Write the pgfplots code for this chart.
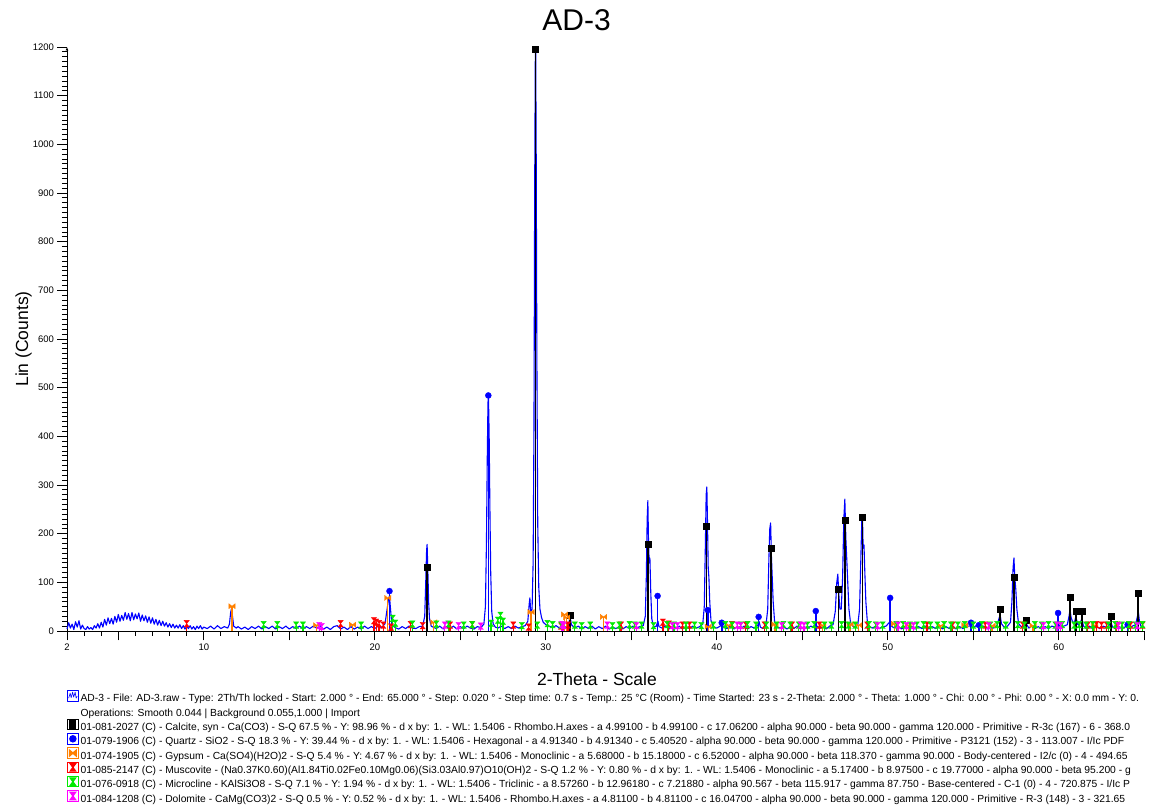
\documentclass[border=0pt]{standalone}
\usepackage{pgfplots}
\pgfplotsset{compat=1.18}
\usepackage{fontspec}
\setmainfont{Liberation Sans}
\usetikzlibrary{arrows.meta}
\definecolor{gyp}{RGB}{255,128,0}
\definecolor{mus}{RGB}{255,0,0}
\definecolor{mic}{RGB}{0,235,0}
\definecolor{dol}{RGB}{255,0,255}
\definecolor{pat}{RGB}{0,0,255}
\pgfdeclareplotmark{hglass}{%
 \pgfpathmoveto{\pgfqpoint{-0.8\pgfplotmarksize}{\pgfplotmarksize}}%
 \pgfpathlineto{\pgfqpoint{0.8\pgfplotmarksize}{\pgfplotmarksize}}%
 \pgfpathlineto{\pgfqpoint{-0.8\pgfplotmarksize}{-\pgfplotmarksize}}%
 \pgfpathlineto{\pgfqpoint{0.8\pgfplotmarksize}{-\pgfplotmarksize}}%
 \pgfpathclose\pgfusepathqfillstroke}
\pgfdeclareplotmark{bowtie}{%
 \pgfpathmoveto{\pgfqpoint{-\pgfplotmarksize}{0.8\pgfplotmarksize}}%
 \pgfpathlineto{\pgfqpoint{-\pgfplotmarksize}{-0.8\pgfplotmarksize}}%
 \pgfpathlineto{\pgfqpoint{\pgfplotmarksize}{0.8\pgfplotmarksize}}%
 \pgfpathlineto{\pgfqpoint{\pgfplotmarksize}{-0.8\pgfplotmarksize}}%
 \pgfpathclose\pgfusepathqfillstroke}
\newcommand{\iconbox}[1]{\draw[#1,line width=0.9pt,fill=white] (0pt,-2pt) rectangle (10.5pt,8.5pt);}
\begin{document}
\begin{tikzpicture}
\useasboundingbox (0,0) rectangle (1149pt,808pt);
\begin{axis}[
  at={(67pt,177pt)}, anchor=south west,
  scale only axis, width=1077.3pt, height=584pt,
  xmin=2, xmax=65, ymin=0, ymax=1200,
  clip=false,
  axis x line*=bottom, axis y line*=left,
  axis line style={line width=0.9pt},
  y axis line style={-{Latex[length=3.5pt,width=3pt]}},
  tick align=outside,
  tick style={black, line width=0.8pt},
  major tick length=9.5pt, minor tick length=5pt,
  xtick={2,10,20,30,40,50,60},
  extra x ticks={5,15,25,35,45,55,65}, extra x tick labels={},
  minor xtick={3,4,...,64},
  ytick={0,100,...,1200}, minor y tick num=9,
  /pgf/number format/assume math mode=true,
  /pgf/number format/1000 sep={},
  ticklabel style={font=\fontsize{9.5}{11}\selectfont},
  title={AD-3},
  title style={font=\fontsize{30}{32}\selectfont, at={(0.473,1)}, anchor=base, yshift=10pt},
  xlabel={2-Theta - Scale},
  xlabel style={font=\fontsize{17.5}{20}\selectfont, at={(axis description cs:0.492,0)}, anchor=base, yshift=-55pt},
  ylabel={Lin (Counts)},
  ylabel style={font=\fontsize{17.5}{20}\selectfont, at={(axis description cs:-0.0362,0.5)}, anchor=base},
  legend cell align=left,
  legend style={at={(0,0)}, anchor=north west, yshift=-59pt, draw=none, fill=none,
    font=\fontsize{10.3}{11}\selectfont, row sep=0.6pt, column sep=2pt, inner sep=0pt,
    nodes={inner sep=0pt, text height=7.5pt, text depth=2pt}},
]
% measured pattern
\addplot[pat, line width=1.1pt, line join=round,
  legend image code/.code={\iconbox{pat}\draw[pat,line width=0.6pt] (1pt,1pt)--(2.5pt,6pt)--(3.5pt,1.5pt)--(5pt,7pt)--(6pt,2pt)--(7.5pt,7pt)--(8.5pt,1pt)--(9.5pt,3pt);}]
 table[row sep=\\] {x y\\
2.0 4\\ 2.1 17\\ 2.2 6\\ 2.3 14\\ 2.4 3\\ 2.5 19\\ 2.6 8\\ 2.7 21\\ 2.8 4\\ 2.9 12\\
3.0 5\\ 3.1 3\\ 3.2 9\\ 3.3 4\\ 3.4 7\\ 3.5 3\\ 3.6 11\\ 3.7 6\\ 3.8 15\\ 3.9 6\\
4.0 18\\ 4.1 8\\ 4.2 24\\ 4.3 12\\ 4.4 27\\ 4.5 15\\ 4.6 26\\ 4.7 14\\ 4.8 30\\ 4.9 18\\
5.0 34\\ 5.1 20\\ 5.2 32\\ 5.3 22\\ 5.4 38\\ 5.5 24\\ 5.6 36\\ 5.7 21\\ 5.8 38\\ 5.9 23\\
6.0 35\\ 6.1 25\\ 6.2 37\\ 6.3 20\\ 6.4 33\\ 6.5 21\\ 6.6 31\\ 6.7 18\\ 6.8 29\\ 6.9 16\\
7.0 27\\ 7.1 14\\ 7.2 24\\ 7.3 12\\ 7.4 22\\ 7.5 11\\ 7.6 20\\ 7.7 10\\ 7.8 17\\ 7.9 8\\
8.0 15\\ 8.1 7\\ 8.2 14\\ 8.3 6\\ 8.4 12\\ 8.5 6\\ 8.6 13\\ 8.7 5\\ 8.8 11\\ 8.9 4\\
9.0 10\\ 9.1 5\\ 9.2 11\\ 9.3 4\\ 9.4 9\\ 9.5 3\\ 9.6 10\\ 9.7 5\\ 9.8 11\\ 9.9 4\\
10.0 8\\ 10.2 5\\ 10.4 10\\ 10.6 4\\ 10.8 11\\ 11.0 5\\ 11.2 9\\ 11.4 6\\ 11.5 14\\ 11.57 38\\
11.62 46\\ 11.68 30\\ 11.75 10\\ 11.9 6\\ 12.0 9\\ 12.2 4\\ 12.4 8\\ 12.6 3\\ 12.8 9\\ 13.0 5\\
13.2 10\\ 13.4 4\\ 13.6 9\\ 13.8 5\\ 14.0 10\\ 14.2 4\\ 14.4 9\\ 14.6 5\\ 14.8 10\\ 15.0 4\\
15.2 9\\ 15.4 5\\ 15.6 10\\ 15.8 4\\ 16.0 9\\ 16.2 5\\ 16.4 10\\ 16.6 6\\ 16.8 11\\ 17.0 4\\
17.2 8\\ 17.4 3\\ 17.6 9\\ 17.8 11\\ 18.0 4\\ 18.2 8\\ 18.4 3\\ 18.6 9\\ 18.8 4\\ 19.0 8\\
19.2 4\\ 19.4 10\\ 19.6 5\\ 19.8 9\\ 20.0 5\\ 20.2 10\\ 20.4 7\\ 20.6 15\\ 20.7 40\\ 20.8 65\\
20.86 72\\ 20.92 45\\ 21.0 12\\ 21.2 7\\ 21.4 4\\ 21.6 9\\ 21.8 5\\ 22.0 10\\ 22.2 6\\ 22.4 5\\
22.6 9\\ 22.8 10\\ 22.92 30\\ 22.98 100\\ 23.03 165\\ 23.06 178\\ 23.1 130\\ 23.15 60\\ 23.2 25\\ 23.3 10\\
23.4 8\\ 23.6 5\\ 23.8 10\\ 24.0 4\\ 24.2 9\\ 24.4 5\\ 24.6 10\\ 24.8 4\\ 25.0 9\\ 25.2 5\\
25.4 10\\ 25.6 6\\ 25.8 4\\ 26.0 9\\ 26.2 7\\ 26.38 14\\ 26.47 50\\ 26.53 180\\ 26.58 360\\ 26.62 470\\
26.65 480\\ 26.69 400\\ 26.73 260\\ 26.78 120\\ 26.84 40\\ 26.92 15\\ 27.05 8\\ 27.2 6\\ 27.4 10\\ 27.6 5\\
27.8 9\\ 28.0 5\\ 28.2 10\\ 28.4 6\\ 28.6 9\\ 28.8 11\\ 28.95 20\\ 29.03 55\\ 29.07 68\\ 29.12 40\\
29.2 45\\ 29.26 140\\ 29.31 420\\ 29.35 900\\ 29.39 1190\\ 29.41 1200\\ 29.44 980\\ 29.48 560\\ 29.53 220\\ 29.59 90\\
29.66 45\\ 29.75 28\\ 29.85 18\\ 30.0 13\\ 30.2 10\\ 30.4 7\\ 30.6 11\\ 30.8 6\\ 31.0 9\\ 31.2 8\\
31.35 15\\ 31.42 30\\ 31.5 13\\ 31.7 6\\ 31.9 10\\ 32.1 4\\ 32.3 9\\ 32.5 5\\ 32.7 10\\ 32.9 4\\
33.1 9\\ 33.3 5\\ 33.5 10\\ 33.7 4\\ 33.9 8\\ 34.1 5\\ 34.3 9\\ 34.5 4\\ 34.7 9\\ 34.9 5\\
35.1 10\\ 35.3 6\\ 35.5 9\\ 35.7 11\\ 35.82 30\\ 35.88 110\\ 35.93 230\\ 35.97 268\\ 36.01 180\\ 36.05 140\\
36.09 150\\ 36.14 80\\ 36.2 25\\ 36.3 10\\ 36.45 9\\ 36.52 16\\ 36.56 20\\ 36.62 9\\ 36.8 6\\ 37.0 10\\
37.2 4\\ 37.4 9\\ 37.6 5\\ 37.8 10\\ 38.0 4\\ 38.2 9\\ 38.4 5\\ 38.6 10\\ 38.8 6\\ 39.0 9\\
39.18 14\\ 39.27 50\\ 39.33 170\\ 39.38 280\\ 39.42 296\\ 39.46 220\\ 39.5 130\\ 39.54 110\\ 39.59 60\\ 39.66 22\\
39.8 9\\ 40.0 6\\ 40.2 10\\ 40.3 15\\ 40.4 7\\ 40.6 5\\ 40.8 10\\ 41.0 4\\ 41.2 9\\ 41.4 5\\
41.6 10\\ 41.8 4\\ 42.0 9\\ 42.2 6\\ 42.4 12\\ 42.47 20\\ 42.55 8\\ 42.7 5\\ 42.88 12\\ 42.98 45\\
43.05 150\\ 43.1 210\\ 43.15 222\\ 43.2 150\\ 43.25 105\\ 43.3 60\\ 43.38 20\\ 43.5 9\\ 43.7 6\\ 43.9 10\\
44.1 4\\ 44.3 9\\ 44.5 5\\ 44.7 10\\ 44.9 4\\ 45.1 9\\ 45.3 5\\ 45.5 10\\ 45.7 7\\ 45.8 12\\
46.0 5\\ 46.2 9\\ 46.4 4\\ 46.6 10\\ 46.8 13\\ 46.93 40\\ 47.02 100\\ 47.08 117\\ 47.13 80\\ 47.2 45\\
47.28 45\\ 47.36 110\\ 47.43 230\\ 47.49 271\\ 47.55 190\\ 47.6 150\\ 47.66 100\\ 47.73 45\\ 47.82 18\\ 47.95 10\\
48.1 8\\ 48.25 13\\ 48.35 45\\ 48.42 140\\ 48.48 225\\ 48.52 238\\ 48.56 170\\ 48.61 177\\ 48.66 120\\ 48.72 60\\
48.8 22\\ 48.9 10\\ 49.1 6\\ 49.3 10\\ 49.5 5\\ 49.7 9\\ 49.9 10\\ 50.1 18\\ 50.2 10\\ 50.4 6\\
50.6 10\\ 50.8 4\\ 51.0 9\\ 51.2 5\\ 51.4 10\\ 51.6 4\\ 51.8 9\\ 52.0 5\\ 52.2 10\\ 52.4 4\\
52.6 9\\ 52.8 5\\ 53.0 10\\ 53.2 4\\ 53.4 9\\ 53.6 5\\ 53.8 10\\ 54.0 4\\ 54.2 9\\ 54.4 5\\
54.6 10\\ 54.8 10\\ 54.92 17\\ 55.05 8\\ 55.3 14\\ 55.45 6\\ 55.6 10\\ 55.8 4\\ 56.0 9\\ 56.2 6\\
56.4 12\\ 56.5 25\\ 56.57 33\\ 56.65 15\\ 56.8 8\\ 57.0 10\\ 57.18 18\\ 57.26 60\\ 57.33 130\\ 57.38 150\\
57.43 110\\ 57.49 85\\ 57.55 45\\ 57.65 15\\ 57.8 9\\ 57.95 10\\ 58.1 15\\ 58.25 6\\ 58.4 10\\ 58.6 5\\
58.8 9\\ 59.0 4\\ 59.2 9\\ 59.4 5\\ 59.6 10\\ 59.8 8\\ 59.95 15\\ 60.1 8\\ 60.3 10\\ 60.5 13\\
60.6 30\\ 60.66 45\\ 60.72 28\\ 60.8 20\\ 60.9 15\\ 61.0 30\\ 61.1 14\\ 61.2 12\\ 61.35 25\\ 61.45 10\\
61.6 6\\ 61.8 10\\ 62.0 4\\ 62.2 9\\ 62.4 5\\ 62.6 10\\ 62.8 7\\ 62.95 12\\ 63.05 18\\ 63.15 8\\
63.3 5\\ 63.5 10\\ 63.7 4\\ 63.9 9\\ 64.1 5\\ 64.3 10\\ 64.5 13\\ 64.6 30\\ 64.66 38\\ 64.72 20\\
64.8 10\\ 65.0 8\\
};
\addlegendentry{AD-3 - File: AD-3.raw - Type: 2Th/Th locked - Start: 2.000 ° - End: 65.000 ° - Step: 0.020 ° - Step time: 0.7 s - Temp.: 25 °C (Room) - Time Started: 23 s - 2-Theta: 2.000 ° - Theta: 1.000 ° - Chi: 0.00 ° - Phi: 0.00 ° - X: 0.0 mm - Y: 0.}
\addlegendimage{legend image code/.code={\path[draw=none,fill=none] (0pt,-2.45pt) rectangle (10.5pt,8.95pt);}}
\addlegendentry{Operations: Smooth 0.044 | Background 0.055,1.000 | Import}
% calcite
\addplot[ycomb, black, line width=1.6pt, mark=square*, mark size=3pt, mark options={solid, line width=0.4pt},
  legend image code/.code={\iconbox{black}\fill[black] (2.5pt,0pt) rectangle (8pt,6.5pt);}]
 table[row sep=\\] {x y\\ 23.06 131\\ 29.40 1195\\ 31.43 33\\ 35.97 179\\ 39.41 216\\ 43.16 171\\ 47.12 86\\ 47.51 228\\ 48.52 234\\ 56.57 44\\ 57.40 111\\ 58.09 23\\ 60.67 70\\ 61.00 41\\ 61.36 40\\ 63.06 30\\ 64.65 77\\};
\addlegendentry{01-081-2027 (C) - Calcite, syn - Ca(CO3) - S-Q 67.5 \% - Y: 98.96 \% - d x by: 1. - WL: 1.5406 - Rhombo.H.axes - a 4.99100 - b 4.99100 - c 17.06200 - alpha 90.000 - beta 90.000 - gamma 120.000 - Primitive - R-3c (167) - 6 - 368.0}
% quartz
\addplot[ycomb, pat, line width=1.6pt, mark=*, mark size=3pt, mark options={solid, line width=0.4pt},
  legend image code/.code={\iconbox{pat}\fill[pat] (5.25pt,3.25pt) circle (2.9pt);}]
 table[row sep=\\] {x y\\ 20.86 82\\ 26.64 484\\ 36.54 72\\ 39.47 43\\ 40.29 17\\ 42.45 29\\ 45.79 41\\ 50.14 68\\ 54.87 17\\ 55.33 12\\ 59.96 37\\ 64.03 13\\};
\addlegendentry{01-079-1906 (C) - Quartz - SiO2 - S-Q 18.3 \% - Y: 39.44 \% - d x by: 1. - WL: 1.5406 - Hexagonal - a 4.91340 - b 4.91340 - c 5.40520 - alpha 90.000 - beta 90.000 - gamma 120.000 - Primitive - P3121 (152) - 3 - 113.007 - I/Ic PDF}
% gypsum
\addplot[ycomb, gyp, line width=1.4pt, mark=bowtie, mark size=3.2pt, mark options={solid, line width=0.3pt},
  legend image code/.code={\iconbox{gyp}\fill[gyp] (2pt,6pt)--(2pt,0.5pt)--(8.5pt,6pt)--(8.5pt,0.5pt)--cycle;}]
 table[row sep=\\] {x y\\ 11.65 51\\ 16.6 12\\ 18.7 13\\ 20.76 68\\ 23.45 18\\ 29.14 39\\ 31.1 34\\ 31.22 28\\ 33.38 29\\ 39.5 9\\ 40.7 12\\ 43.4 14\\ 46.2 12\\ 47.8 14\\ 48.3 12\\ 50.4 15\\ 51.2 12\\ 53.1 11\\ 54.5 12\\ 56.1 11\\ 58.5 11\\ 62.1 12\\};
\addlegendentry{01-074-1905 (C) - Gypsum - Ca(SO4)(H2O)2 - S-Q 5.4 \% - Y: 4.67 \% - d x by: 1. - WL: 1.5406 - Monoclinic - a 5.68000 - b 15.18000 - c 6.52000 - alpha 90.000 - beta 118.370 - gamma 90.000 - Body-centered - I2/c (0) - 4 - 494.65}
% muscovite
\addplot[ycomb, mus, line width=1.2pt, mark=hglass, mark size=3.3pt, mark options={solid, line width=0.3pt},
  legend image code/.code={\iconbox{mus}\fill[mus] (2.5pt,7pt)--(8pt,7pt)--(2.5pt,-0.5pt)--(8pt,-0.5pt)--cycle;}]
 table[row sep=\\] {x y\\ 9.0 15\\ 18.0 15\\ 19.95 21\\ 20.08 18\\ 20.25 15\\ 20.5 12\\ 20.95 8\\ 22.1 13\\ 22.8 11\\ 24.4 12\\ 25.7 13\\ 28.1 12\\ 29.0 8\\ 30.9 10\\ 31.3 12\\ 34.4 12\\ 36.85 18\\ 37.2 14\\ 38.0 12\\ 38.4 12\\ 40.9 13\\ 41.7 12\\ 42.8 12\\ 44.4 12\\ 46.0 12\\ 48.8 12\\ 52.3 12\\ 53.8 12\\ 55.7 12\\ 57.9 12\\ 61.7 12\\ 62.2 13\\ 62.5 12\\ 62.8 12\\ 63.4 12\\ 64.2 12\\ 64.9 12\\};
\addlegendentry{01-085-2147 (C) - Muscovite - (Na0.37K0.60)(Al1.84Ti0.02Fe0.10Mg0.06)(Si3.03Al0.97)O10(OH)2 - S-Q 1.2 \% - Y: 0.80 \% - d x by: 1. - WL: 1.5406 - Monoclinic - a 5.17400 - b 8.97500 - c 19.77000 - alpha 90.000 - beta 95.200 - g}
% microcline
\addplot[ycomb, mic, line width=1.2pt, mark=hglass, mark size=3.3pt, mark options={solid, line width=0.3pt},
  legend image code/.code={\iconbox{mic}\fill[mic] (2.5pt,7pt)--(8pt,7pt)--(2.5pt,-0.5pt)--(8pt,-0.5pt)--cycle;}]
 table[row sep=\\] {x y\\ 13.5 13\\ 14.3 13\\ 15.4 12\\ 15.8 12\\ 19.2 12\\ 21.05 26\\ 21.2 16\\ 22.2 14\\ 23.6 14\\ 24.3 14\\ 25.2 12\\ 25.7 13\\ 26.8 16\\ 27.2 22\\ 27.35 32\\ 27.5 20\\ 28.6 11\\ 29.5 12\\ 30.1 15\\ 30.4 13\\ 30.9 12\\ 31.7 12\\ 32.1 11\\ 32.6 12\\ 33.9 11\\ 34.3 12\\ 34.9 13\\ 35.2 12\\ 35.6 12\\ 36.3 11\\ 37.1 13\\ 37.5 12\\ 38.2 12\\ 38.7 12\\ 39.1 11\\ 39.8 12\\ 40.5 13\\ 40.9 12\\ 41.4 12\\ 41.8 13\\ 42.3 12\\ 42.9 12\\ 43.5 12\\ 43.9 13\\ 44.3 12\\ 44.8 12\\ 45.3 12\\ 45.7 13\\ 46.3 12\\ 46.7 12\\ 47.3 13\\ 47.7 12\\ 48.1 12\\ 48.9 13\\ 49.3 12\\ 49.7 12\\ 50.5 13\\ 50.9 13\\ 51.3 12\\ 51.7 12\\ 52.1 13\\ 52.5 12\\ 52.9 12\\ 53.3 13\\ 53.7 12\\ 54.1 12\\ 54.5 13\\ 55.0 12\\ 55.5 13\\ 56.0 12\\ 56.4 13\\ 56.9 12\\ 57.6 13\\ 58.0 12\\ 58.6 13\\ 59.0 12\\ 59.4 13\\ 59.8 12\\ 60.2 13\\ 60.9 12\\ 61.2 13\\ 61.6 12\\ 62.0 13\\ 62.9 12\\ 63.3 13\\ 63.7 12\\ 64.1 13\\ 64.5 12\\ 64.9 13\\};
\addlegendentry{01-076-0918 (C) - Microcline - KAlSi3O8 - S-Q 7.1 \% - Y: 1.94 \% - d x by: 1. - WL: 1.5406 - Triclinic - a 8.57260 - b 12.96180 - c 7.21880 - alpha 90.567 - beta 115.917 - gamma 87.750 - Base-centered - C-1 (0) - 4 - 720.875 - I/Ic P}
% dolomite
\addplot[ycomb, dol, line width=1.2pt, mark=hglass, mark size=3.3pt, mark options={solid, line width=0.3pt},
  legend image code/.code={\iconbox{dol}\fill[dol] (2.5pt,7pt)--(8pt,7pt)--(2.5pt,-0.5pt)--(8pt,-0.5pt)--cycle;}]
 table[row sep=\\] {x y\\ 16.75 11\\ 16.9 9\\ 24.1 12\\ 24.9 11\\ 26.2 10\\ 30.95 13\\ 31.05 11\\ 33.6 12\\ 35.3 11\\ 37.4 11\\ 37.7 11\\ 41.2 12\\ 41.4 11\\ 43.8 11\\ 44.9 12\\ 45.1 11\\ 49.4 11\\ 50.6 12\\ 51.1 11\\ 51.5 11\\ 55.9 11\\ 59.1 11\\ 59.9 12\\ 60.1 11\\ 63.5 11\\ 64.6 11\\};
\addlegendentry{01-084-1208 (C) - Dolomite - CaMg(CO3)2 - S-Q 0.5 \% - Y: 0.52 \% - d x by: 1. - WL: 1.5406 - Rhombo.H.axes - a 4.81100 - b 4.81100 - c 16.04700 - alpha 90.000 - beta 90.000 - gamma 120.000 - Primitive - R-3 (148) - 3 - 321.65}
\end{axis}
\end{tikzpicture}
\end{document}
